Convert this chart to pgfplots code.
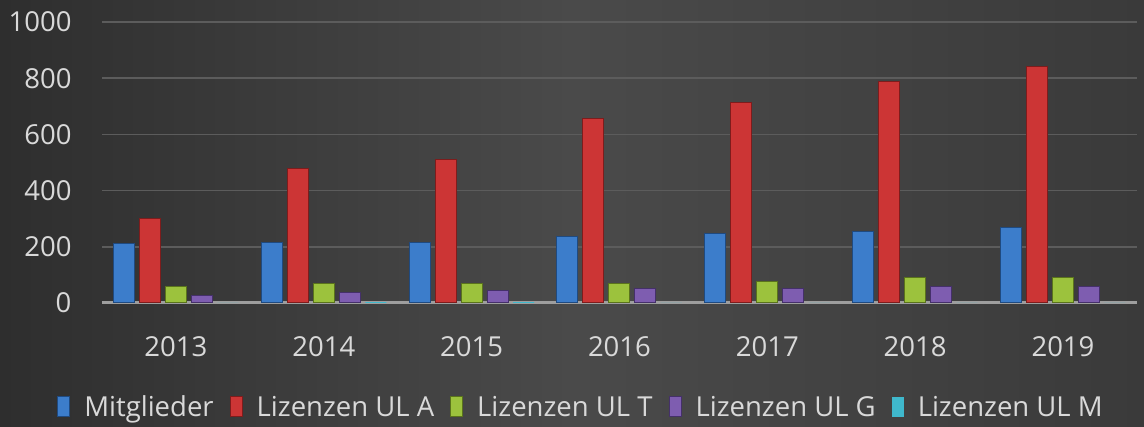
\documentclass[border=0pt]{standalone}
\usepackage{pgfplots}
\pgfplotsset{compat=1.18}
\usepackage{fontspec}
\setmainfont{Open Sans}
\definecolor{bgA}{HTML}{2E2E2E}
\definecolor{bgB}{HTML}{4A4A4A}
\definecolor{bgC}{HTML}{3A3A3A}
\definecolor{txt}{HTML}{D9D9D9}
\definecolor{cBlue}{HTML}{3C7DCB}
\definecolor{cBlueD}{HTML}{1F4A80}
\definecolor{cRed}{HTML}{CC3535}
\definecolor{cRedD}{HTML}{7E1C1C}
\definecolor{cGreen}{HTML}{9CC23D}
\definecolor{cGreenD}{HTML}{5A731C}
\definecolor{cPurple}{HTML}{7E5DB0}
\definecolor{cPurpleD}{HTML}{45306A}
\definecolor{cCyan}{HTML}{3FB8CC}
\definecolor{cCyanD}{HTML}{1F7080}
\begin{document}
\begin{tikzpicture}[x=1pt,y=1pt]
\shade[left color=bgA, right color=bgC, middle color=bgB] (0,0) rectangle (1144,427);
\begin{axis}[
  at={(102pt,124pt)}, anchor=south west,
  scale only axis, width=1035pt, height=281pt,
  xmin=-0.5, xmax=6.5, ymin=0, ymax=1000,
  ybar=5pt, bar width=21pt,
  xtick={0,...,6}, xticklabels={2013,2014,2015,2016,2017,2018,2019},
  ytick={0,200,...,1000},
  axis x line*=bottom, axis y line*=left,
  x axis line style={-, draw=white!62!black, line width=3pt},
  y axis line style={draw=none},
  major tick length=0pt,
  ymajorgrids, grid style={draw=white!36!black, line width=1.5pt},
  every tick label/.style={font=\fontsize{27.5}{33}\selectfont, text=txt},
  /pgf/number format/assume math mode=true,
  /pgf/number format/1000 sep={},
  yticklabel style={xshift=-27pt},
  xticklabel style={text height=20pt, text depth=0pt, yshift=-30pt},
  legend style={at={(479pt,-104pt)}, anchor=center, draw=none, fill=none,
    font=\fontsize{27.5}{33}\selectfont, text=txt, legend columns=5,
    /tikz/every odd column/.append style={column sep=12pt},
    /tikz/every even column/.append style={column sep=14pt}},
  legend image code/.code={\path[#1] (0pt,-10pt) rectangle (12pt,10pt);},
]
\addplot[draw=cBlueD, line width=1pt, fill=cBlue] coordinates {(0,210) (1,217) (2,217) (3,235) (4,249) (5,253) (6,270)};
\addplot[draw=cRedD, line width=1pt, fill=cRed] coordinates {(0,302) (1,480) (2,512) (3,655) (4,712) (5,790) (6,843)};
\addplot[draw=cGreenD, line width=1pt, fill=cGreen] coordinates {(0,57) (1,68) (2,71) (3,71) (4,78) (5,89) (6,92)};
\addplot[draw=cPurpleD, line width=1pt, fill=cPurple] coordinates {(0,28) (1,36) (2,43) (3,50) (4,53) (5,57) (6,57)};
\addplot[draw=none, fill=cCyan] coordinates {(0,0) (1,3) (2,3) (3,0) (4,0) (5,0) (6,0)};
\legend{Mitglieder, Lizenzen UL A, Lizenzen UL T, Lizenzen UL G, Lizenzen UL M}
\end{axis}
\end{tikzpicture}
\end{document}
